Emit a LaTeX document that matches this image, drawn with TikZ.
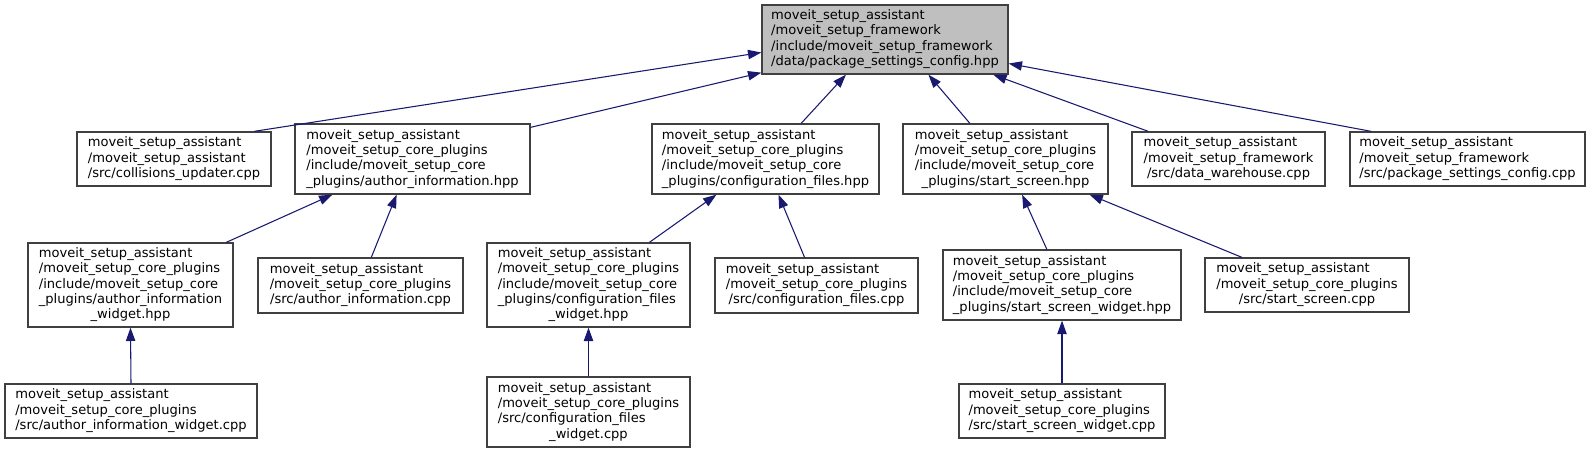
\documentclass[tikz,border=0pt]{standalone}
\usepackage{fontspec}
\setmainfont{DejaVu Sans}
\usetikzlibrary{arrows.meta}

\definecolor{edgeblue}{HTML}{191970}
\definecolor{boxline}{HTML}{404040}
\definecolor{thisfill}{HTML}{BFBFBF}

% lines left aligned, last one centred (as dot does it)
\newcommand{\flines}[2]{\begin{tabular}{@{}l@{}}#1\\\multicolumn{1}{@{}c@{}}{#2}\end{tabular}}

\tikzset{
  filebox/.style={draw=boxline, line width=1pt, fill=white, rectangle,
    inner sep=0pt, font=\fontsize{9.8pt}{11.5pt}\selectfont},
  thisbox/.style={filebox, fill=thisfill},
  boxsize/.style 2 args={minimum width=#1*0.75pt, minimum height=#2*0.75pt},
  inc/.style={draw=edgeblue, line width=0.8pt,
    {Triangle[length=10pt, width=7pt, fill=edgeblue]}-},
}

\begin{document}
\begin{tikzpicture}[x=0.75pt, y=-0.75pt]
  \useasboundingbox (0,0) rectangle (1590,452);

  % the header itself
  \node[thisbox, boxsize={246}{69}] (top) at (885,39.5)
    {\flines{moveit\_setup\_assistant\\/moveit\_setup\_framework\\/include/moveit\_setup\_framework}{/data/package\_settings\_config.hpp}};

  % first row
  \node[filebox, boxsize={194}{54}] (coll) at (174,159)
    {\flines{moveit\_setup\_assistant\\/moveit\_setup\_assistant}{/src/collisions\_updater.cpp}};
  \node[filebox, boxsize={235}{70}] (ai) at (412.5,159)
    {\flines{moveit\_setup\_assistant\\/moveit\_setup\_core\_plugins\\/include/moveit\_setup\_core}{\_plugins/author\_information.hpp}};
  \node[filebox, boxsize={227}{70}] (cfg) at (765.5,159)
    {\flines{moveit\_setup\_assistant\\/moveit\_setup\_core\_plugins\\/include/moveit\_setup\_core}{\_plugins/configuration\_files.hpp}};
  \node[filebox, boxsize={205}{70}] (ss) at (1005.5,159)
    {\flines{moveit\_setup\_assistant\\/moveit\_setup\_core\_plugins\\/include/moveit\_setup\_core}{\_plugins/start\_screen.hpp}};
  \node[filebox, boxsize={193}{54}] (dw) at (1228.5,159)
    {\flines{moveit\_setup\_assistant\\/moveit\_setup\_framework}{/src/data\_warehouse.cpp}};
  \node[filebox, boxsize={235}{54}] (pc) at (1467.5,159)
    {\flines{moveit\_setup\_assistant\\/moveit\_setup\_framework}{/src/package\_settings\_config.cpp}};

  % second row
  \node[filebox, boxsize={205}{84}] (aiw) at (130.5,285)
    {\flines{moveit\_setup\_assistant\\/moveit\_setup\_core\_plugins\\/include/moveit\_setup\_core\\\_plugins/author\_information}{\_widget.hpp}};
  \node[filebox, boxsize={205}{55}] (aic) at (360.5,285.5)
    {\flines{moveit\_setup\_assistant\\/moveit\_setup\_core\_plugins}{/src/author\_information.cpp}};
  \node[filebox, boxsize={203}{84}] (cfgw) at (588.5,285)
    {\flines{moveit\_setup\_assistant\\/moveit\_setup\_core\_plugins\\/include/moveit\_setup\_core\\\_plugins/configuration\_files}{\_widget.hpp}};
  \node[filebox, boxsize={203}{55}] (cfgc) at (816.5,285.5)
    {\flines{moveit\_setup\_assistant\\/moveit\_setup\_core\_plugins}{/src/configuration\_files.cpp}};
  \node[filebox, boxsize={238}{70}] (ssw) at (1062,285)
    {\flines{moveit\_setup\_assistant\\/moveit\_setup\_core\_plugins\\/include/moveit\_setup\_core}{\_plugins/start\_screen\_widget.hpp}};
  \node[filebox, boxsize={204}{54}] (ssc) at (1307,285)
    {\flines{moveit\_setup\_assistant\\/moveit\_setup\_core\_plugins}{/src/start\_screen.cpp}};

  % third row
  \node[filebox, boxsize={252}{54}] (aiwc) at (131,411)
    {\flines{moveit\_setup\_assistant\\/moveit\_setup\_core\_plugins}{/src/author\_information\_widget.cpp}};
  \node[filebox, boxsize={203}{70}] (cfgwc) at (588.5,412)
    {\flines{moveit\_setup\_assistant\\/moveit\_setup\_core\_plugins\\/src/configuration\_files}{\_widget.cpp}};
  \node[filebox, boxsize={206}{54}] (sswc) at (1062,411)
    {\flines{moveit\_setup\_assistant\\/moveit\_setup\_core\_plugins}{/src/start\_screen\_widget.cpp}};

  % include edges, tip at the included file
  \foreach \a/\b in {top.186/coll.19, top.195/ai.15, top.222/cfg.45,
                     top.321/ss.135, top.342/dw.161, top.349/pc.164,
                     ai.204/aiw.24, ai.246/aic.69, cfg.216/cfgw.35,
                     cfg.290/cfgc.113, ss.295/ssw.113, ss.337/ssc.157,
                     aiw.south/aiwc.north, cfgw.south/cfgwc.north,
                     ssw.south/sswc.north}
    \draw[inc] (\a) -- (\b);
\end{tikzpicture}
\end{document}
